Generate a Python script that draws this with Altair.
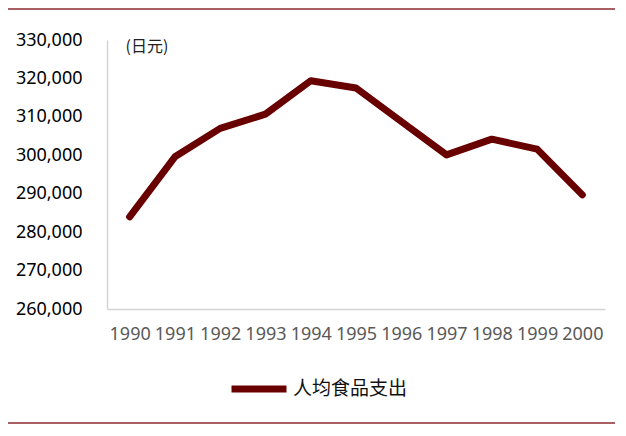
import altair as alt
import pandas as pd

years = ["1990", "1991", "1992", "1993", "1994", "1995", "1996", "1997", "1998", "1999", "2000"]
spending = [284000, 299600, 307000, 310700, 319400, 317500, 308800, 300100, 304200, 301600, 289700]
series_name = "人均食品支出"
unit_label = "(日元)"

df = pd.DataFrame({"year": years, "value": spending, "series": [series_name] * len(years)})
edge = pd.DataFrame({"k": ["top", "bottom"]})

line = alt.Chart(df).mark_line(strokeWidth=7, strokeCap="round", strokeJoin="round").encode(
    x=alt.X("year:O", scale=alt.Scale(type="point", padding=0.5),
            axis=alt.Axis(title=None, labelAngle=0, labelFontSize=18, labelColor="#595959",
                          labelFont="Noto Sans", labelPadding=16, ticks=False,
                          domainColor="#d4d4d4", domainWidth=1.5)),
    y=alt.Y("value:Q", scale=alt.Scale(domain=[260000, 330000], nice=False, zero=False),
            axis=alt.Axis(title=unit_label, titleAngle=0, titleAlign="left", titleBaseline="middle",
                          titleX=18, titleY=6, titleFontSize=16, titleFontWeight="normal",
                          titleFont="Noto Sans CJK SC", titleColor="#222222",
                          format=",d", values=list(range(260000, 330001, 10000)),
                          labelFontSize=18, labelColor="#000000", labelFont="Noto Sans",
                          labelPadding=25, ticks=False, grid=False,
                          domainColor="#d4d4d4", domainWidth=1.5)),
    color=alt.Color("series:N", scale=alt.Scale(range=["#680000"]),
                    legend=alt.Legend(title=None, orient="none", legendX=121, legendY=318,
                                      symbolType="stroke", symbolSize=3025, symbolStrokeWidth=7,
                                      labelFontSize=19, labelFont="Noto Sans CJK SC",
                                      labelColor="#111111", labelOffset=3)),
)

top_rule = alt.Chart(edge).transform_filter(alt.datum.k == "top").mark_rule(
    color="#8b2a2a", strokeWidth=1.5).encode(
    y=alt.value(-31), x=alt.value(-99), x2=alt.value(511))
bottom_rule = alt.Chart(edge).transform_filter(alt.datum.k == "bottom").mark_rule(
    color="#8b2a2a", strokeWidth=1.5).encode(
    y=alt.value(383), x=alt.value(-99), x2=alt.value(511))

chart = alt.layer(line, top_rule, bottom_rule).properties(
    width=498, height=269,
    autosize=alt.AutoSizeParams(type="none"),
    padding={"left": 99, "top": 32, "right": 10, "bottom": 116},
).configure_view(stroke=None)

chart.save("out.html", embed_options={"renderer": "svg", "actions": False})
